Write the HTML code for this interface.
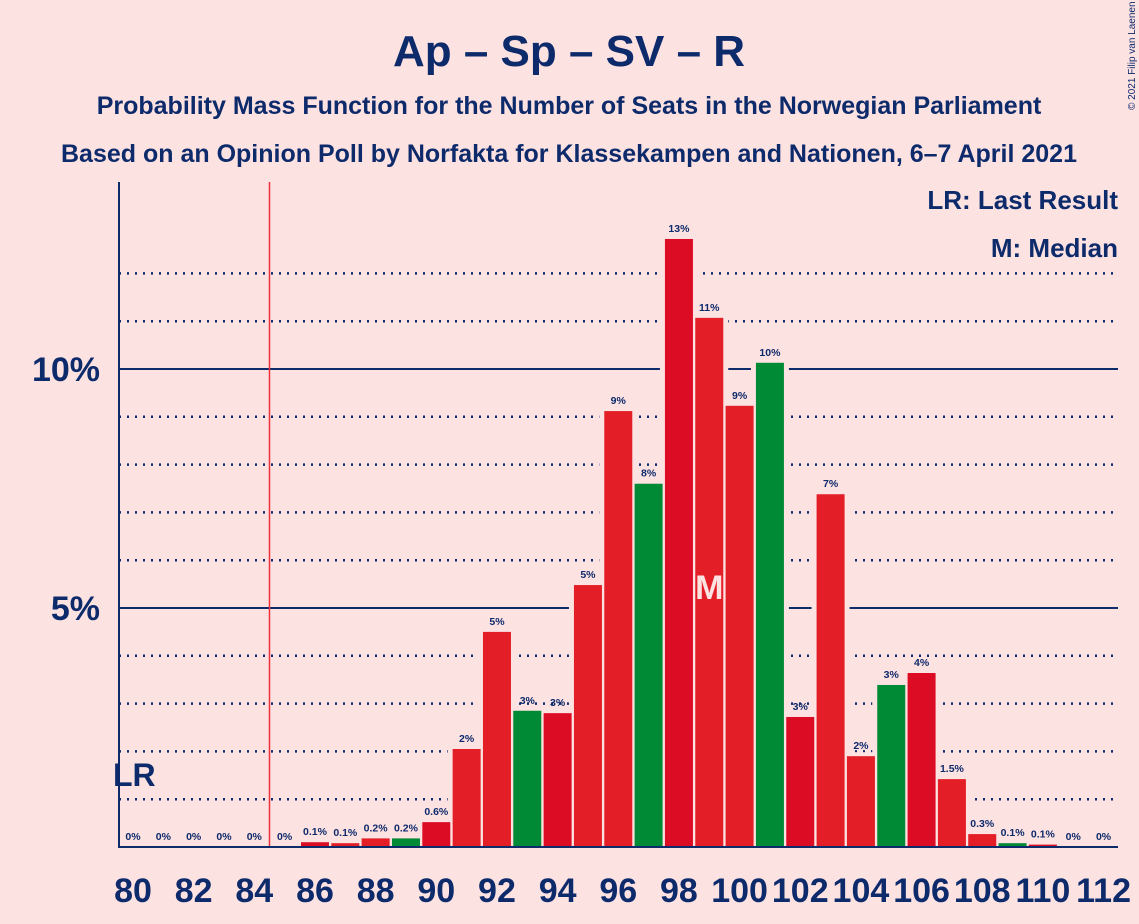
<!DOCTYPE html>
<html><head><meta charset="utf-8"><style>
body{margin:0;background:#fde2e2;}
svg{display:block;font-family:"Liberation Sans",sans-serif;}
</style></head><body>
<svg id="c" width="1139" height="924">
<rect width="1139" height="924" fill="#fde2e2"/>
<text x="569" y="66" text-anchor="middle" font-size="44" font-weight="bold" fill="#0d2a6b">Ap – Sp – SV – R</text>
<text x="569" y="114" text-anchor="middle" font-size="25" font-weight="bold" fill="#0d2a6b">Probability Mass Function for the Number of Seats in the Norwegian Parliament</text>
<text x="569" y="162" text-anchor="middle" font-size="25" font-weight="bold" fill="#0d2a6b">Based on an Opinion Poll by Norfakta for Klassekampen and Nationen, 6–7 April 2021</text>
<text x="1135" y="110" font-size="10" fill="#0d2a6b" transform="rotate(-90 1135 110)">© 2021 Filip van Laenen</text>
<text x="1118" y="209" text-anchor="end" font-size="26" font-weight="bold" fill="#0d2a6b">LR: Last Result</text>
<text x="1118" y="257" text-anchor="end" font-size="26" font-weight="bold" fill="#0d2a6b">M: Median</text>
<g id="grid"></g>
<g id="gaps"></g>
<g id="bars"></g>
<g id="labels"></g>
</svg>
<script>
const seats=[80,81,82,83,84,85,86,87,88,89,90,91,92,93,94,95,96,97,98,99,100,101,102,103,104,105,106,107,108,109,110,111,112];
const probs=[0,0,0,0,0,0,0.1,0.08,0.18,0.18,0.52,2.05,4.5,2.85,2.8,5.48,9.12,7.6,12.72,11.07,9.23,10.13,2.72,7.38,1.9,3.39,3.64,1.42,0.27,0.08,0.05,0,0];
const valueLabels=["0%","0%","0%","0%","0%","0%","0.1%","0.1%","0.2%","0.2%","0.6%","2%","5%","3%","3%","5%","9%","8%","13%","11%","9%","10%","3%","7%","2%","3%","4%","1.5%","0.3%","0.1%","0.1%","0%","0%"];
const yTicks=[5,10];
const xTickSeats=[80,82,84,86,88,90,92,94,96,98,100,102,104,106,108,110,112];
const lastResult=85;
const median=99;
const NS="http://www.w3.org/2000/svg";
const x0=119,x1=1118,yBase=847,pxPerPct=47.8;
const xs=s=>133+(s-80)*30.33;
const ys=v=>yBase-v*pxPerPct;
function mk(t,a,p){const e=document.createElementNS(NS,t);for(const k in a)e.setAttribute(k,a[k]);p.appendChild(e);return e;}
const grid=document.getElementById('grid'),gaps=document.getElementById('gaps'),bars=document.getElementById('bars'),labels=document.getElementById('labels');
for(let p=1;p<=12;p++){
  const solid=p%5===0;
  const l=mk('line',{x1:x0,x2:x1,y1:ys(p),y2:ys(p),stroke:'#0d2a6b','stroke-width':solid?2:2.5,'stroke-dasharray':solid?'':'2 6'},grid);
  
  
}
yTicks.forEach(t=>{
  const e=mk('text',{x:100,y:ys(t)+12,'text-anchor':'end','font-size':34,'font-weight':'bold',fill:'#0d2a6b'},labels);
  e.textContent=t+'%';
  
  
});
const lrX=(xs(lastResult-1)+xs(lastResult))/2;
const lr=mk('line',{x1:lrX,x2:lrX,y1:182,y2:yBase,stroke:'#f0303a','stroke-width':1.5},grid);


seats.forEach((s,i)=>{
  const v=probs[i];
  const green=(s-89)%4===0;
  const dark=(s-86)%4===0;
  const col=green?'#008a35':(dark?'#dc0c24':'#e31e26');
  if(v>0){
    const g=mk('rect',{x:xs(s)-19,y:ys(v)-4,width:38,height:yBase-ys(v)+4,fill:'#fde2e2'},gaps);
    
    
    const r=mk('rect',{x:xs(s)-14,y:ys(v),width:28,height:yBase-ys(v),fill:col},bars);
    
    
  }
  const t=mk('text',{x:xs(s),y:ys(v)-7,'text-anchor':'middle','font-size':10.5,'font-weight':'bold',fill:'#0d2a6b'},labels);
  t.textContent=valueLabels[i];
  
  
});
xTickSeats.forEach(s=>{
  const e=mk('text',{x:xs(s),y:902,'text-anchor':'middle','font-size':34,'font-weight':'bold',fill:'#0d2a6b'},labels);
  e.textContent=s;
  
  
});
const m=mk('text',{x:xs(median),y:599,'text-anchor':'middle','font-size':34,'font-weight':'bold',fill:'#fde2e2'},labels);
m.textContent='M';


const lt=mk('text',{x:113,y:786,'font-size':32,'font-weight':'bold',fill:'#0d2a6b'},labels);
lt.textContent='LR';


const ax=mk('line',{x1:x0,x2:x0,y1:182,y2:yBase+1,stroke:'#0d2a6b','stroke-width':2},labels);


const bx=mk('line',{x1:x0,x2:x1,y1:yBase,y2:yBase,stroke:'#0d2a6b','stroke-width':2},labels);


</script>
</body></html>
